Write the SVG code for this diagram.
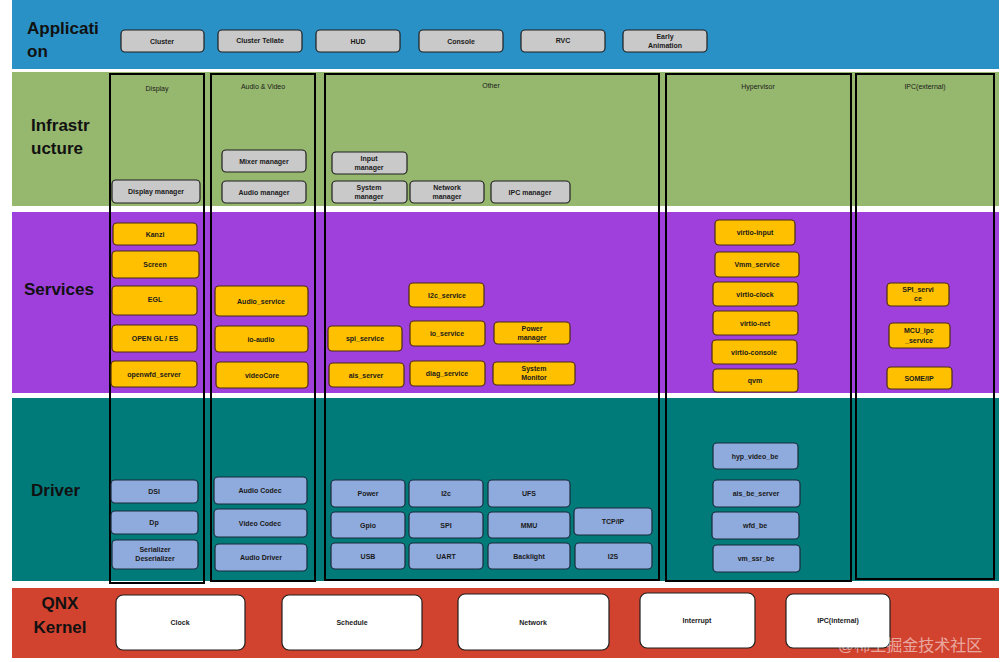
<svg xmlns="http://www.w3.org/2000/svg" width="1003" height="662" viewBox="0 0 1003 662">
<style>
.n rect{stroke:#1e1e1e;stroke-width:1.2}
.app rect{fill:#c9c9c9}
.inf rect{fill:#c9c9c9}
.svc rect{fill:#ffc000;stroke:#4a2a10}
.drv rect{fill:#8faadc;stroke:#1a2a3a}
.krn rect{fill:#ffffff}
.n text{font-family:"Liberation Sans",Arial,sans-serif;font-size:7px;fill:#1a1a1a;text-anchor:middle;font-weight:bold}
.col{fill:none;stroke:#000;stroke-width:2}
.colt{font-family:"Liberation Sans",Arial,sans-serif;font-size:7px;fill:#1a1a1a;text-anchor:middle}
.bt{font-family:"Liberation Sans",Arial,sans-serif;font-size:17px;font-weight:bold;fill:#111}
</style>
<rect width="1003" height="662" fill="#ffffff"/>
<!-- bands -->
<g id="bands">
<rect x="12" y="0" width="987" height="69" fill="#2a91c6"/>
<rect x="12" y="72" width="987" height="134" fill="#96b76e"/>
<rect x="12" y="212" width="987" height="181" fill="#a040dc"/>
<rect x="12" y="398" width="987" height="183" fill="#007b7a"/>
<rect x="12" y="588" width="987" height="70" fill="#d1432f"/>
<text class="bt" x="27" y="34">Applicati</text>
<text class="bt" x="27" y="57">on</text>
<text class="bt" x="31" y="131">Infrastr</text>
<text class="bt" x="31" y="154">ucture</text>
<text class="bt" x="24" y="295">Services</text>
<text class="bt" x="31" y="496">Driver</text>
<text class="bt" x="60" y="609" text-anchor="middle">QNX</text>
<text class="bt" x="60" y="633" text-anchor="middle">Kernel</text>
</g>
<!-- columns -->
<g id="col-display"><rect class="col" x="110" y="74" width="94" height="509"/><text class="colt" x="157" y="91">Display</text></g>
<g id="col-av"><rect class="col" x="211" y="74" width="104" height="507"/><text class="colt" x="263" y="89">Audio &amp; Video</text></g>
<g id="col-other"><rect class="col" x="325" y="74" width="334" height="506"/><text class="colt" x="491" y="88">Other</text></g>
<g id="col-hyp"><rect class="col" x="666" y="74" width="185" height="507"/><text class="colt" x="758" y="89">Hypervisor</text></g>
<g id="col-ipc"><rect class="col" x="856" y="74" width="138" height="505"/><text class="colt" x="925" y="89">IPC(external)</text></g>
<g id="connectors"></g>
<!-- Application -->
<g id="app-cluster" class="n app"><rect x="121" y="30" width="83" height="22" rx="4"/><text x="162" y="43.5">Cluster</text></g>
<g id="app-tellate" class="n app"><rect x="218" y="30" width="84" height="22" rx="4"/><text x="260" y="43">Cluster Tellate</text></g>
<g id="app-hud" class="n app"><rect x="316" y="30" width="84" height="22" rx="4"/><text x="358" y="43.5">HUD</text></g>
<g id="app-console" class="n app"><rect x="419" y="30" width="84" height="22" rx="4"/><text x="461" y="43.5">Console</text></g>
<g id="app-rvc" class="n app"><rect x="521" y="30" width="84" height="22" rx="4"/><text x="563" y="43">RVC</text></g>
<g id="app-early" class="n app"><rect x="623" y="30" width="84" height="22" rx="4"/><text x="665" y="39">Early</text><text x="665" y="48">Animation</text></g>
<!-- Infrastructure -->
<g id="inf-display" class="n inf"><rect x="112" y="180" width="88" height="23" rx="4"/><text x="156" y="194">Display manager</text></g>
<g id="inf-mixer" class="n inf"><rect x="222" y="150" width="84" height="22" rx="4"/><text x="264" y="163.5">Mixer manager</text></g>
<g id="inf-audio" class="n inf"><rect x="222" y="181" width="84" height="22" rx="4"/><text x="264" y="194.5">Audio manager</text></g>
<g id="inf-input" class="n inf"><rect x="332" y="152" width="75" height="22" rx="4"/><text x="369" y="161">Input</text><text x="369" y="170">manager</text></g>
<g id="inf-system" class="n inf"><rect x="332" y="181" width="75" height="22" rx="4"/><text x="369" y="190">System</text><text x="369" y="199">manager</text></g>
<g id="inf-network" class="n inf"><rect x="410" y="181" width="74" height="22" rx="4"/><text x="447" y="190">Network</text><text x="447" y="199">manager</text></g>
<g id="inf-ipc" class="n inf"><rect x="491" y="181" width="79" height="22" rx="4"/><text x="530" y="194.5">IPC manager</text></g>
<!-- Services -->
<g id="svc-kanzi" class="n svc"><rect x="113" y="223" width="84" height="22" rx="4"/><text x="155" y="236.5">Kanzi</text></g>
<g id="svc-screen" class="n svc"><rect x="112" y="251" width="87" height="27" rx="4"/><text x="155" y="267">Screen</text></g>
<g id="svc-egl" class="n svc"><rect x="112" y="286" width="85" height="29" rx="4"/><text x="155" y="302">EGL</text></g>
<g id="svc-opengl" class="n svc"><rect x="112" y="325" width="85" height="27" rx="4"/><text x="155" y="341">OPEN GL / ES</text></g>
<g id="svc-openwfd" class="n svc"><rect x="111" y="361" width="86" height="26" rx="4"/><text x="154" y="377">openwfd_server</text></g>
<g id="svc-audio" class="n svc"><rect x="215" y="286" width="93" height="30" rx="4"/><text x="261" y="303.5">Audio_service</text></g>
<g id="svc-ioaudio" class="n svc"><rect x="215" y="326" width="93" height="26" rx="4"/><text x="261" y="341.5">io-audio</text></g>
<g id="svc-videocore" class="n svc"><rect x="216" y="362" width="92" height="26" rx="4"/><text x="262" y="378">videoCore</text></g>
<g id="svc-i2c" class="n svc"><rect x="409" y="283" width="75" height="24" rx="4"/><text x="447" y="297.5">I2c_service</text></g>
<g id="svc-spi" class="n svc"><rect x="328" y="326" width="74" height="25" rx="4"/><text x="365" y="341">spi_service</text></g>
<g id="svc-io" class="n svc"><rect x="410" y="321" width="75" height="25" rx="4"/><text x="447" y="336">io_service</text></g>
<g id="svc-power" class="n svc"><rect x="494" y="322" width="76" height="22" rx="4"/><text x="532" y="331">Power</text><text x="532" y="340">manager</text></g>
<g id="svc-ais" class="n svc"><rect x="329" y="363" width="75" height="24" rx="4"/><text x="366" y="377.5">ais_server</text></g>
<g id="svc-diag" class="n svc"><rect x="410" y="361" width="75" height="25" rx="4"/><text x="447" y="376">diag_service</text></g>
<g id="svc-sysmon" class="n svc"><rect x="493" y="362" width="82" height="23" rx="4"/><text x="534" y="371">System</text><text x="534" y="380">Monitor</text></g>
<g id="svc-vinput" class="n svc"><rect x="715" y="220" width="80" height="25" rx="4"/><text x="755" y="235">virtio-input</text></g>
<g id="svc-vmm" class="n svc"><rect x="715" y="252" width="84" height="25" rx="4"/><text x="757" y="267">Vmm_service</text></g>
<g id="svc-vclock" class="n svc"><rect x="713" y="282" width="85" height="24" rx="4"/><text x="755" y="296.5">virtio-clock</text></g>
<g id="svc-vnet" class="n svc"><rect x="713" y="311" width="85" height="24" rx="4"/><text x="755" y="325.5">virtio-net</text></g>
<g id="svc-vconsole" class="n svc"><rect x="712" y="340" width="85" height="24" rx="4"/><text x="754" y="354.5">virtio-console</text></g>
<g id="svc-qvm" class="n svc"><rect x="713" y="369" width="85" height="23" rx="4"/><text x="755" y="383">qvm</text></g>
<g id="svc-spiext" class="n svc"><rect x="887" y="283" width="62" height="23" rx="4"/><text x="918" y="292">SPI_servi</text><text x="918" y="301">ce</text></g>
<g id="svc-mcu" class="n svc"><rect x="889" y="323" width="61" height="25" rx="4"/><text x="919" y="333">MCU_ipc</text><text x="919" y="343">_service</text></g>
<g id="svc-someip" class="n svc"><rect x="887" y="367" width="65" height="22" rx="4"/><text x="919" y="380.5">SOME/IP</text></g>
<!-- Driver -->
<g id="drv-dsi" class="n drv"><rect x="111" y="480" width="87" height="23" rx="4"/><text x="154" y="494">DSI</text></g>
<g id="drv-dp" class="n drv"><rect x="111" y="511" width="87" height="23" rx="4"/><text x="154" y="525">Dp</text></g>
<g id="drv-serdes" class="n drv"><rect x="112" y="540" width="86" height="29" rx="4"/><text x="155" y="552">Serializer</text><text x="155" y="561">Deserializer</text></g>
<g id="drv-acodec" class="n drv"><rect x="214" y="477" width="93" height="27" rx="4"/><text x="260" y="493">Audio Codec</text></g>
<g id="drv-vcodec" class="n drv"><rect x="214" y="509" width="93" height="28" rx="4"/><text x="260" y="525.5">Video Codec</text></g>
<g id="drv-adriver" class="n drv"><rect x="215" y="544" width="92" height="27" rx="4"/><text x="261" y="560">Audio Driver</text></g>
<g id="drv-power" class="n drv"><rect x="331" y="480" width="74" height="27" rx="4"/><text x="368" y="496">Power</text></g>
<g id="drv-i2c" class="n drv"><rect x="409" y="480" width="74" height="27" rx="4"/><text x="446" y="496">I2c</text></g>
<g id="drv-ufs" class="n drv"><rect x="488" y="480" width="82" height="27" rx="4"/><text x="529" y="496">UFS</text></g>
<g id="drv-gpio" class="n drv"><rect x="331" y="512" width="74" height="26" rx="4"/><text x="368" y="527.5">Gpio</text></g>
<g id="drv-spi" class="n drv"><rect x="409" y="512" width="74" height="26" rx="4"/><text x="446" y="527.5">SPI</text></g>
<g id="drv-mmu" class="n drv"><rect x="488" y="512" width="82" height="26" rx="4"/><text x="529" y="527.5">MMU</text></g>
<g id="drv-tcpip" class="n drv"><rect x="574" y="508" width="78" height="27" rx="4"/><text x="613" y="524">TCP/IP</text></g>
<g id="drv-usb" class="n drv"><rect x="331" y="543" width="74" height="26" rx="4"/><text x="368" y="558.5">USB</text></g>
<g id="drv-uart" class="n drv"><rect x="409" y="543" width="74" height="26" rx="4"/><text x="446" y="558.5">UART</text></g>
<g id="drv-backlight" class="n drv"><rect x="488" y="543" width="82" height="26" rx="4"/><text x="529" y="558.5">Backlight</text></g>
<g id="drv-i2s" class="n drv"><rect x="575" y="543" width="77" height="26" rx="4"/><text x="613" y="558.5">I2S</text></g>
<g id="drv-hypvideo" class="n drv"><rect x="713" y="443" width="85" height="26" rx="4"/><text x="755" y="458.5">hyp_video_be</text></g>
<g id="drv-aisbe" class="n drv"><rect x="713" y="480" width="87" height="27" rx="4"/><text x="756" y="496">ais_be_server</text></g>
<g id="drv-wfdbe" class="n drv"><rect x="712" y="512" width="87" height="27" rx="4"/><text x="755" y="528">wfd_be</text></g>
<g id="drv-vmssr" class="n drv"><rect x="713" y="545" width="87" height="27" rx="4"/><text x="756" y="561">vm_ssr_be</text></g>
<!-- Kernel -->
<g id="krn-clock" class="n krn"><rect x="116" y="595" width="129" height="55" rx="7"/><text x="180" y="625">Clock</text></g>
<g id="krn-schedule" class="n krn"><rect x="282" y="595" width="140" height="55" rx="7"/><text x="352" y="625">Schedule</text></g>
<g id="krn-network" class="n krn"><rect x="458" y="594" width="151" height="56" rx="7"/><text x="533" y="625">Network</text></g>
<g id="krn-interrupt" class="n krn"><rect x="640" y="593" width="115" height="55" rx="7"/><text x="697" y="623">Interrupt</text></g>
<g id="krn-ipc" class="n krn"><rect x="786" y="594" width="104" height="54" rx="7"/><text x="838" y="623">IPC(internal)</text></g>
<text x="838" y="651" font-family="'Liberation Sans','Noto Sans CJK SC',sans-serif" font-size="16" fill="#ffffff" fill-opacity="0.55">@稀土掘金技术社区</text>
</svg>
